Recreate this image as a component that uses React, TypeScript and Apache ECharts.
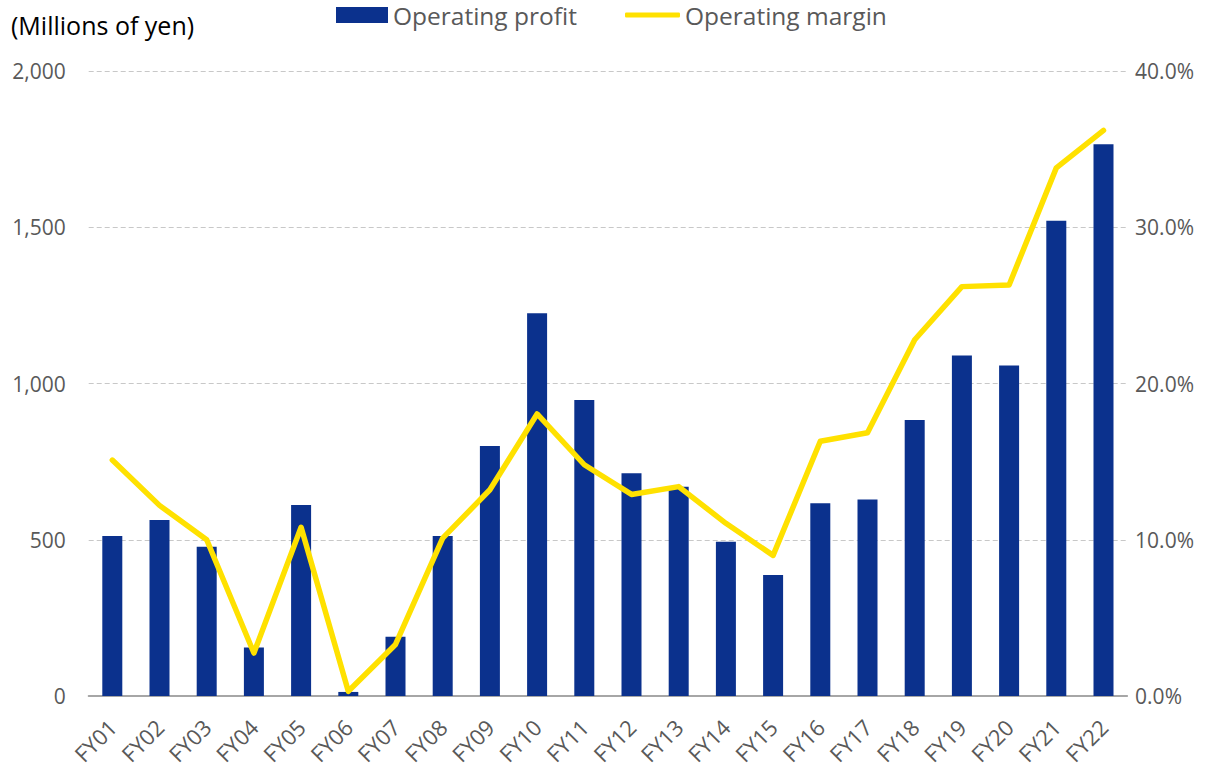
import React, { useEffect, useRef } from "react";
import * as echarts from "echarts";

const categories = ["FY01","FY02","FY03","FY04","FY05","FY06","FY07","FY08","FY09","FY10","FY11","FY12","FY13","FY14","FY15","FY16","FY17","FY18","FY19","FY20","FY21","FY22"];
const operatingProfit = [512, 563, 478, 155, 611, 13, 190, 512, 800, 1225, 947, 713, 670, 494, 387, 617, 629, 883, 1090, 1058, 1521, 1766];
const operatingMargin = [15.1, 12.2, 10.0, 2.75, 10.8, 0.3, 3.3, 10.1, 13.2, 18.05, 14.8, 12.9, 13.4, 11.05, 9.0, 16.3, 16.85, 22.8, 26.2, 26.3, 33.8, 36.2];

const FONT = "'Open Sans', 'Noto Sans', sans-serif";
const GRAY = "#595959";
const BLUE = "#0b318d";
const YELLOW = "#ffe100";

export default function App() {
  const ref = useRef<HTMLDivElement>(null);
  useEffect(() => {
    if (!ref.current) return;
    const chart = echarts.init(ref.current, null, { renderer: "svg" });
    chart.setOption({
      animation: false,
      backgroundColor: "#ffffff",
      textStyle: { fontFamily: FONT },
      title: {
        text: "(Millions of yen)",
        left: 11,
        top: 10,
        padding: 0,
        textStyle: { fontFamily: FONT, fontSize: 25, lineHeight: 30, fontWeight: "normal", color: "#000000" },
      },
      legend: [
        {
          data: ["Operating profit"],
          left: 336,
          top: 2,
          padding: 0,
          icon: "rect",
          itemWidth: 52,
          itemHeight: 16,
          textStyle: { fontFamily: FONT, fontSize: 24.5, lineHeight: 26, color: GRAY },
        },
        {
          data: ["Operating margin"],
          left: 625,
          top: 2,
          padding: 0,
          icon: "roundRect",
          itemWidth: 55,
          itemHeight: 5,
          itemStyle: { color: YELLOW },
          textStyle: { fontFamily: FONT, fontSize: 24.5, lineHeight: 26, color: GRAY },
        },
      ],
      grid: { left: 88.7, right: 88.9, top: 71, bottom: 76 },
      xAxis: {
        type: "category",
        data: categories,
        axisLine: { lineStyle: { color: "#a6a6a6", width: 2 } },
        axisTick: { show: false },
        axisLabel: {
          rotate: 45,
          interval: 0,
          margin: 27,
          fontFamily: FONT,
          fontSize: 22,
          color: GRAY,
        },
      },
      yAxis: [
        {
          type: "value",
          min: 0,
          max: 2000,
          interval: 500,
          axisLine: { show: false },
          axisTick: { show: false },
          axisLabel: {
            margin: 23,
            fontFamily: FONT,
            fontSize: 21,
            color: GRAY,
            formatter: (v: number) => v.toLocaleString("en-US"),
          },
          splitLine: { lineStyle: { color: "#c8c8c8", type: [5, 3], width: 1 } },
        },
        {
          type: "value",
          min: 0,
          max: 40,
          interval: 10,
          axisLine: { show: false },
          axisTick: { show: false },
          axisLabel: {
            margin: 8,
            fontFamily: FONT,
            fontSize: 21,
            color: GRAY,
            formatter: (v: number) => v.toFixed(1) + "%",
          },
          splitLine: { show: false },
        },
      ],
      series: [
        {
          name: "Operating profit",
          type: "bar",
          data: operatingProfit,
          barWidth: 20,
          itemStyle: { color: BLUE },
          yAxisIndex: 0,
        },
        {
          name: "Operating margin",
          type: "line",
          data: operatingMargin,
          yAxisIndex: 1,
          symbol: "none",
          lineStyle: { color: YELLOW, width: 5.5, cap: "round", join: "round" },
          itemStyle: { color: YELLOW },
        },
      ],
    });
    return () => chart.dispose();
  }, []);
  return (
    <div
      ref={ref}
      style={{ position: "absolute", left: 0, top: 0, width: 1216, height: 772 }}
    />
  );
}
